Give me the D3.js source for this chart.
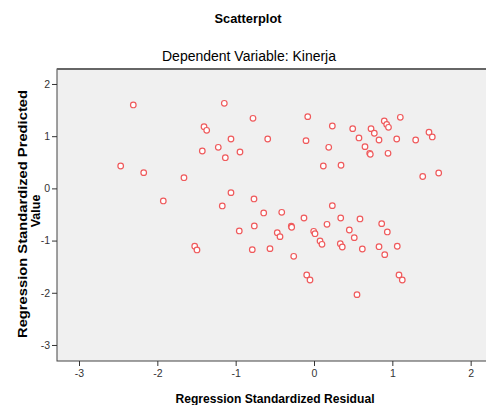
<!DOCTYPE html>
<html>
<head>
<meta charset="utf-8">
<script src="https://cdn.jsdelivr.net/npm/d3@7"></script>
<style>
  body { margin: 0; background: #fff; }
  svg { display: block; font-family: "Liberation Sans", Arial, sans-serif; }
</style>
</head>
<body>
<div id="chart"></div>
<script>
// residual (x) and predicted (y), standardized
var residual = [
  -2.307, -1.145, -0.779, -1.404, -1.370, -1.060, -0.591, -1.426, -1.222, -1.132,
  -0.945, -2.468, -2.174, -1.660, -1.924, -1.060, -0.766, -1.171, -0.642, -0.954,
  -0.762, -1.523, -1.494, -0.788, -0.562, -0.080, 0.234, 0.494, 0.728, 0.897,
  0.928, 0.951, 1.102, 0.770, 0.574, 0.830, 1.056, 1.298, 1.468, 1.510,
  -0.102, 0.188, 0.651, 0.711, 0.719, 0.945, 0.119, 0.345, 1.388, 1.592,
  0.234, -0.412, -0.128, 0.341, 0.587, -0.290, -0.285, -0.469, -0.434, -0.004,
  0.013, 0.166, 0.451, 0.514, 0.864, 0.936, 0.077, 0.102, 0.336, 0.361,
  0.617, 0.830, 0.903, 1.063, -0.259, -0.093, -0.051, 1.085, 1.127, 0.549
];
var predicted = [
  1.598, 1.630, 1.343, 1.182, 1.113, 0.946, 0.946, 0.716, 0.787, 0.588,
  0.697, 0.429, 0.301, 0.205, -0.241, -0.082, -0.203, -0.337, -0.471, -0.816,
  -0.720, -1.109, -1.180, -1.174, -1.155, 1.374, 1.195, 1.144, 1.144, 1.291,
  1.224, 1.170, 1.362, 1.056, 0.966, 0.927, 0.946, 0.927, 1.075, 0.985,
  0.914, 0.787, 0.799, 0.672, 0.653, 0.672, 0.429, 0.443, 0.228, 0.295,
  -0.331, -0.458, -0.567, -0.567, -0.586, -0.726, -0.745, -0.849, -0.925, -0.822,
  -0.868, -0.688, -0.797, -0.944, -0.676, -0.835, -1.008, -1.071, -1.059, -1.123,
  -1.161, -1.117, -1.270, -1.109, -1.301, -1.659, -1.755, -1.659, -1.755, -2.036
];
var xTicks = [-3, -2, -1, 0, 1, 2];
var yTicks = [-3, -2, -1, 0, 1, 2];
var chartTitle = "Scatterplot";
var chartSubtitle = "Dependent Variable: Kinerja";
var xLabel = "Regression Standardized Residual";
var yLabel = ["Regression Standardized Predicted", "Value"];

function drawScatter() {
    var width = 486, height = 405;
    var margin = { top: 69, left: 57 },
        plot_w = 441, plot_h = 292;

    var points = residual.map((r, i) => ({ x: r, y: predicted[i] }));

    var svg = d3.select("#chart").append("svg")
        .attr("width", width)
        .attr("height", height);

    // titles
    svg.append("text")
        .attr("x", 248).attr("y", 23)
        .attr("text-anchor", "middle")
        .style("font-size", "13.5px").style("font-weight", "bold")
        .attr("textLength", 67).attr("lengthAdjust", "spacingAndGlyphs")
        .text(chartTitle);
    svg.append("text")
        .attr("x", 249).attr("y", 61)
        .attr("text-anchor", "middle")
        .style("font-size", "14px")
        .attr("textLength", 174).attr("lengthAdjust", "spacingAndGlyphs")
        .text(chartSubtitle);

    var g = svg.append("g")
        .attr("transform", `translate(${margin.left},${margin.top})`);

    var xScale = d3.scaleLinear().domain([-3.281, 2.349]).range([0, plot_w]);
    var yScale = d3.scaleLinear().domain([-3.307, 2.287]).range([plot_h, 0]);

    // plot background + frame
    g.append("rect")
        .attr("width", plot_w).attr("height", plot_h)
        .attr("fill", "#f0f0f0")
        .attr("stroke", "#444").attr("stroke-width", 1);
    g.append("line")
        .attr("x1", 0).attr("x2", plot_w).attr("y1", 0).attr("y2", 0)
        .attr("stroke", "#666").attr("stroke-width", 2);

    // axes (plain hyphen for the minus sign, like the original)
    var fmt = d => String(d);
    var xAxis = g.append("g")
        .attr("transform", "translate(0," + plot_h + ")")
        .call(d3.axisBottom(xScale).tickValues(xTicks).tickFormat(fmt)
            .tickSize(5).tickSizeOuter(0).tickPadding(4));
    var yAxis = g.append("g")
        .call(d3.axisLeft(yScale).tickValues(yTicks).tickFormat(fmt)
            .tickSize(5).tickSizeOuter(0).tickPadding(2));
    [xAxis, yAxis].forEach(a => {
        a.select(".domain").remove();
        a.selectAll("line").attr("stroke", "#333");
        a.selectAll("text")
            .attr("fill", "#333")
            .style("font-family", "Liberation Sans Narrow, Liberation Sans, Arial, sans-serif")
            .style("font-size", "10.5px");
    });

    // points
    g.selectAll("circle.pt")
        .data(points)
        .enter()
        .append("circle")
        .attr("class", "pt")
        .attr("cx", d => xScale(d.x))
        .attr("cy", d => yScale(d.y))
        .attr("r", 2.8)
        .attr("fill", "#fff")
        .attr("stroke", "#ef5a5c")
        .attr("stroke-width", 1.2);

    // axis titles
    svg.append("text")
        .attr("x", 275).attr("y", 403)
        .attr("text-anchor", "middle")
        .style("font-size", "13px").style("font-weight", "bold")
        .attr("textLength", 199).attr("lengthAdjust", "spacingAndGlyphs")
        .text(xLabel);
    svg.append("text")
        .attr("transform", "translate(26.5,214) rotate(-90)")
        .attr("text-anchor", "middle")
        .style("font-size", "12.5px").style("font-weight", "bold")
        .attr("textLength", 248).attr("lengthAdjust", "spacingAndGlyphs")
        .text(yLabel[0]);
    svg.append("text")
        .attr("transform", "translate(39.5,211) rotate(-90)")
        .attr("text-anchor", "middle")
        .style("font-size", "12.5px").style("font-weight", "bold")
        .text(yLabel[1]);
}
drawScatter();
</script>
</body>
</html>
